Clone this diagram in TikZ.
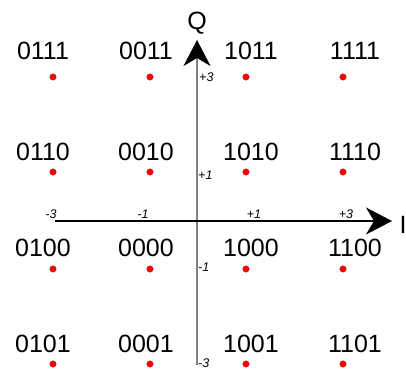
\documentclass[tikz,border=0pt]{standalone}
\usepackage{fontspec}
\setmainfont{Liberation Sans}
\usetikzlibrary{arrows.meta, positioning}

\begin{document}
\begin{tikzpicture}[
    x=1pt, y=-1pt,
    symbol/.style={
        circle,
        draw=red!70!black,
        fill=red,
        line width=0.3pt,
        minimum size=6.5pt,
        inner sep=0pt
    },
    bits/.style={
        inner sep=0pt,
        font=\fontsize{25}{25}\selectfont
    },
    tick/.style={
        inner sep=0pt,
        font=\fontsize{12.5}{12.5}\selectfont\itshape
    },
    axislabel/.style={
        inner sep=0pt,
        anchor=base,
        font=\fontsize{25}{25}\selectfont
    },
    iaxis/.style={line width=1.3pt, black, -{Stealth[length=26pt, width=27pt, inset=8pt]}},
    qaxis/.style={line width=1.3pt, gray, -{Stealth[length=26pt, width=27pt, inset=8pt, color=black]}}
]
    \useasboundingbox (0,0) rectangle (406,369);

    % axes
    \coordinate (ileft) at (55,221);
    \coordinate (iright) at (392,221);
    \coordinate (qbottom) at (197,365);
    \coordinate (qtop) at (197,40);
    \draw[qaxis] (qbottom) -- (qtop);
    \draw[iaxis] (ileft) -- (iright);
    \node[axislabel] (qlabel) at (197,30) {Q};
    \node[axislabel, anchor=base west] (ilabel) at (399.5,233) {I};

    % axis values
    \node[tick] (im3) at (51,214) {-3};
    \node[tick] (im1) at (143,214) {-1};
    \node[tick] (ip1) at (254,214) {+1};
    \node[tick] (ip3) at (346,214) {+3};
    \node[tick, anchor=west] (qp3) at (199,77) {+3};
    \node[tick, anchor=west] (qp1) at (198,175) {+1};
    \node[tick, anchor=west] (qm1) at (198,267) {-1};
    \node[tick, anchor=west] (qm3) at (198,363) {-3};

    % constellation points
    \node[symbol] (s0111) at (53,77) {};
    \node[symbol] (s0011) at (150,77) {};
    \node[symbol] (s1011) at (246,77) {};
    \node[symbol] (s1111) at (343,77) {};
    \node[symbol] (s0110) at (53,172) {};
    \node[symbol] (s0010) at (150,172) {};
    \node[symbol] (s1010) at (246,172) {};
    \node[symbol] (s1110) at (343,172) {};
    \node[symbol] (s0100) at (53,269) {};
    \node[symbol] (s0000) at (150,269) {};
    \node[symbol] (s1000) at (246,269) {};
    \node[symbol] (s1100) at (343,269) {};
    \node[symbol] (s0101) at (53,364) {};
    \node[symbol] (s0001) at (150,364) {};
    \node[symbol] (s1001) at (246,364) {};
    \node[symbol] (s1101) at (343,364) {};

    % bit labels
    \node[bits] (b0111) at (43,51) {0111};
    \node[bits] (b0011) at (146,51) {0011};
    \node[bits] (b1011) at (251,51) {1011};
    \node[bits] (b1111) at (355,51) {1111};
    \node[bits] (b0110) at (43,152) {0110};
    \node[bits] (b0010) at (146,152) {0010};
    \node[bits] (b1010) at (251,152) {1010};
    \node[bits] (b1110) at (355,152) {1110};
    \node[bits] (b0100) at (43,248) {0100};
    \node[bits] (b0000) at (146,248) {0000};
    \node[bits] (b1000) at (251,248) {1000};
    \node[bits] (b1100) at (355,248) {1100};
    \node[bits] (b0101) at (43,344) {0101};
    \node[bits] (b0001) at (146,344) {0001};
    \node[bits] (b1001) at (251,344) {1001};
    \node[bits] (b1101) at (355,344) {1101};
\end{tikzpicture}
\end{document}
